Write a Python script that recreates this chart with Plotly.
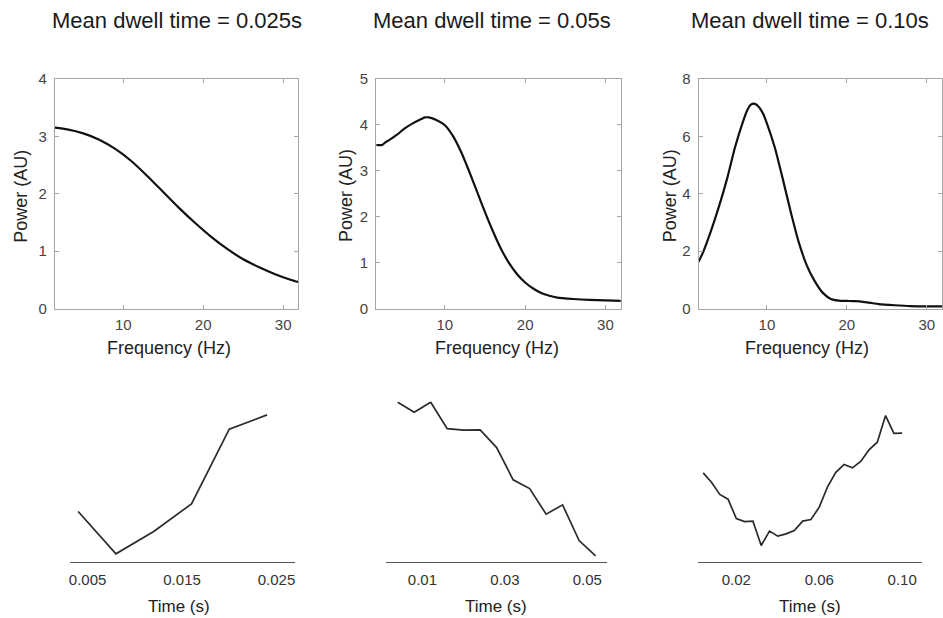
import plotly.graph_objects as go

# ---------------- data ----------------
titles = ["Mean dwell time = 0.025s", "Mean dwell time = 0.05s", "Mean dwell time = 0.10s"]

freq1 = [1.45, 3, 5, 7, 9, 11, 13, 15, 17, 19, 21, 23, 25, 27, 29, 31, 32]
power1 = [3.15, 3.12, 3.05, 2.94, 2.78, 2.57, 2.31, 2.03, 1.75, 1.49, 1.25, 1.04, 0.86, 0.72, 0.60, 0.50, 0.46]

freq2 = [1.45, 2.2, 2.6, 3, 4, 5, 6, 7, 7.5, 8, 9, 10, 11, 12, 13, 14, 15, 16, 17, 18, 19, 20, 21, 22, 23, 24, 26, 28, 30, 32]
power2 = [3.56, 3.56, 3.62, 3.66, 3.78, 3.92, 4.03, 4.12, 4.16, 4.16, 4.10, 3.99, 3.76, 3.42, 3.00, 2.55, 2.10, 1.68, 1.30, 0.99, 0.75, 0.57, 0.44, 0.34, 0.28, 0.24, 0.21, 0.19, 0.18, 0.17]

freq3 = [1.45, 2, 3, 4, 5, 6, 7, 7.5, 8, 8.5, 9, 9.5, 10, 11, 12, 13, 14, 15, 16, 17, 18, 19, 20, 21, 22, 23, 24, 26, 28, 30, 32]
power3 = [1.63, 1.95, 2.70, 3.55, 4.50, 5.60, 6.50, 6.88, 7.10, 7.13, 7.02, 6.80, 6.45, 5.60, 4.50, 3.35, 2.30, 1.50, 0.95, 0.55, 0.34, 0.28, 0.27, 0.26, 0.24, 0.20, 0.16, 0.12, 0.09, 0.08, 0.08]

time1 = [0.004, 0.008, 0.012, 0.016, 0.020, 0.024]
val1 = [5.00, 0.77, 3.00, 5.77, 13.24, 14.67]

time2 = [0.004, 0.008, 0.012, 0.016, 0.020, 0.024, 0.028, 0.032, 0.036, 0.040, 0.044, 0.048, 0.052]
val2 = [15.94, 14.94, 15.94, 13.30, 13.14, 13.17, 11.40, 8.17, 7.30, 4.74, 5.67, 2.10, 0.57]

time3 = [0.004, 0.008, 0.012, 0.016, 0.020, 0.024, 0.028, 0.032, 0.036, 0.040, 0.044, 0.048, 0.052,
         0.056, 0.060, 0.064, 0.068, 0.072, 0.076, 0.080, 0.084, 0.088, 0.092, 0.096, 0.100]
val3 = [8.87, 7.94, 6.72, 6.24, 4.30, 4.00, 4.04, 1.60, 3.04, 2.54, 2.77, 3.10, 4.04,
        4.20, 5.44, 7.47, 8.92, 9.72, 9.37, 10.02, 11.17, 11.94, 14.60, 12.82, 12.85]

ytick_top = [[0, 1, 2, 3, 4], [0, 1, 2, 3, 4, 5], [0, 2, 4, 6, 8]]
yrange_top = [[0, 4], [0, 5], [0, 8]]
xtick_top = [10, 20, 30]

xtick_bot = [[0.005, 0.015, 0.025], [0.01, 0.03, 0.05], [0.02, 0.06, 0.10]]
xticklabel_bot = [["0.005", "0.015", "0.025"], ["0.01", "0.03", "0.05"], ["0.02", "0.06", "0.10"]]
xrange_bot = [[0.00312, 0.0270], [0.0012, 0.0547], [0.00127, 0.1096]]

# ---------------- layout geometry (pixels) ----------------
W, H = 943, 618
FONT = "Liberation Sans, Arial, Helvetica, sans-serif"

# the capture compresses the page slightly in height; map target pixel rows
# to figure rows so the captured picture lands on the intended rows
VS, VO = 0.9731, 9.13


def px(x):
    return x / W


def py(y):
    return 1 - ((y - VO) / VS) / H


top_x = [(54, 298), (376, 621), (699, 943)]
top_y = (79, 309)
bot_x = [(69, 295), (386, 607), (698, 923)]
bot_y = (402, 562)

fig = go.Figure()

freqs = [freq1, freq2, freq3]
powers = [power1, power2, power3]
times = [time1, time2, time3]
vals = [val1, val2, val3]

layout = dict(
    width=W, height=H,
    margin=dict(l=0, r=0, t=0, b=0),
    paper_bgcolor="white", plot_bgcolor="white",
    showlegend=False,
    font=dict(family=FONT, color="#333"),
)

AX = "#a6a6a6"
for i in range(3):
    # top panel
    xa = f"x{2*i+1}" if i > 0 else "x"
    ya = f"y{2*i+1}" if i > 0 else "y"
    xk = "xaxis" + (str(2*i+1) if i > 0 else "")
    yk = "yaxis" + (str(2*i+1) if i > 0 else "")
    fig.add_trace(go.Scatter(x=freqs[i], y=powers[i], mode="lines",
                             line=dict(color="#111", width=2.2, shape="spline", smoothing=0.6),
                             xaxis=xa, yaxis=ya, hoverinfo="skip"))
    layout[xk] = dict(domain=[px(top_x[i][0]), px(top_x[i][1])], anchor=ya,
                      range=[1.45, 31.9], tickvals=xtick_top, ticks="inside", ticklen=4,
                      tickcolor=AX, showline=True, linecolor=AX, linewidth=1, mirror="ticks",
                      showgrid=False, zeroline=False, tickfont=dict(size=15, color="#444"),
                      ticklabelstandoff=2)
    layout[yk] = dict(domain=[py(top_y[1]), py(top_y[0])], anchor=xa,
                      range=yrange_top[i], tickvals=ytick_top[i], ticks="inside", ticklen=4,
                      tickcolor=AX, showline=True, linecolor=AX, linewidth=1, mirror="ticks",
                      showgrid=False, zeroline=False, tickfont=dict(size=15, color="#444"),
                      ticklabelstandoff=4)
    # bottom panel
    xb = f"x{2*i+2}"
    yb = f"y{2*i+2}"
    fig.add_trace(go.Scatter(x=times[i], y=vals[i], mode="lines",
                             line=dict(color="#2b2b2b", width=1.7),
                             xaxis=xb, yaxis=yb, hoverinfo="skip"))
    layout["xaxis" + str(2*i+2)] = dict(domain=[px(bot_x[i][0]), px(bot_x[i][1])], anchor=yb,
                                         range=xrange_bot[i], tickvals=xtick_bot[i],
                                         ticktext=xticklabel_bot[i], ticks="outside", ticklen=4,
                                         tickcolor="rgba(0,0,0,0)", showline=True,
                                         linecolor="#555", linewidth=1.3, showgrid=False,
                                         zeroline=False, tickfont=dict(size=15, color="#333"))
    layout["yaxis" + str(2*i+2)] = dict(domain=[py(bot_y[1]), py(bot_y[0])], anchor=xb,
                                         range=[0, 16], visible=False)

fig.update_layout(**layout)

ann = []
title_cx = [176, 492, 811]
for i in range(3):
    ann.append(dict(text=titles[i], x=px(title_cx[i]), y=py(21), xref="paper", yref="paper",
                    showarrow=False, xanchor="center", yanchor="middle",
                    font=dict(size=22, color="#1a1a1a", family=FONT)))
freq_cx = [168, 497, 808]
power_cx = [20, 345, 670]
time_cx = [178, 496, 811]
for i in range(3):
    ann.append(dict(text="Frequency (Hz)", x=px(freq_cx[i]), y=py(348), xref="paper", yref="paper",
                    showarrow=False, xanchor="center", yanchor="middle",
                    font=dict(size=18, color="#222", family=FONT)))
    ann.append(dict(text="Power (AU)", x=px(power_cx[i]), y=py(196), xref="paper", yref="paper",
                    showarrow=False, xanchor="center", yanchor="middle", textangle=-90,
                    font=dict(size=18, color="#222", family=FONT)))
    ann.append(dict(text="Time (s)", x=px(time_cx[i]), y=py(607), xref="paper", yref="paper",
                    showarrow=False, xanchor="center", yanchor="middle",
                    font=dict(size=17, color="#222", family=FONT)))
fig.update_layout(annotations=ann)

post = (
    "document.documentElement.style.margin='0';"
    "document.documentElement.style.padding='0';"
    "document.documentElement.style.overflow='hidden';"
    "document.body.style.margin='0';"
    "document.body.style.padding='0';"
    "document.body.style.overflow='hidden';"
    "var gd=document.getElementById('{plot_id}');"
    "gd.style.position='fixed';gd.style.left='0px';gd.style.top='0px';"
)

fig.write_html("out.html", config={"displayModeBar": False}, post_script=post)
